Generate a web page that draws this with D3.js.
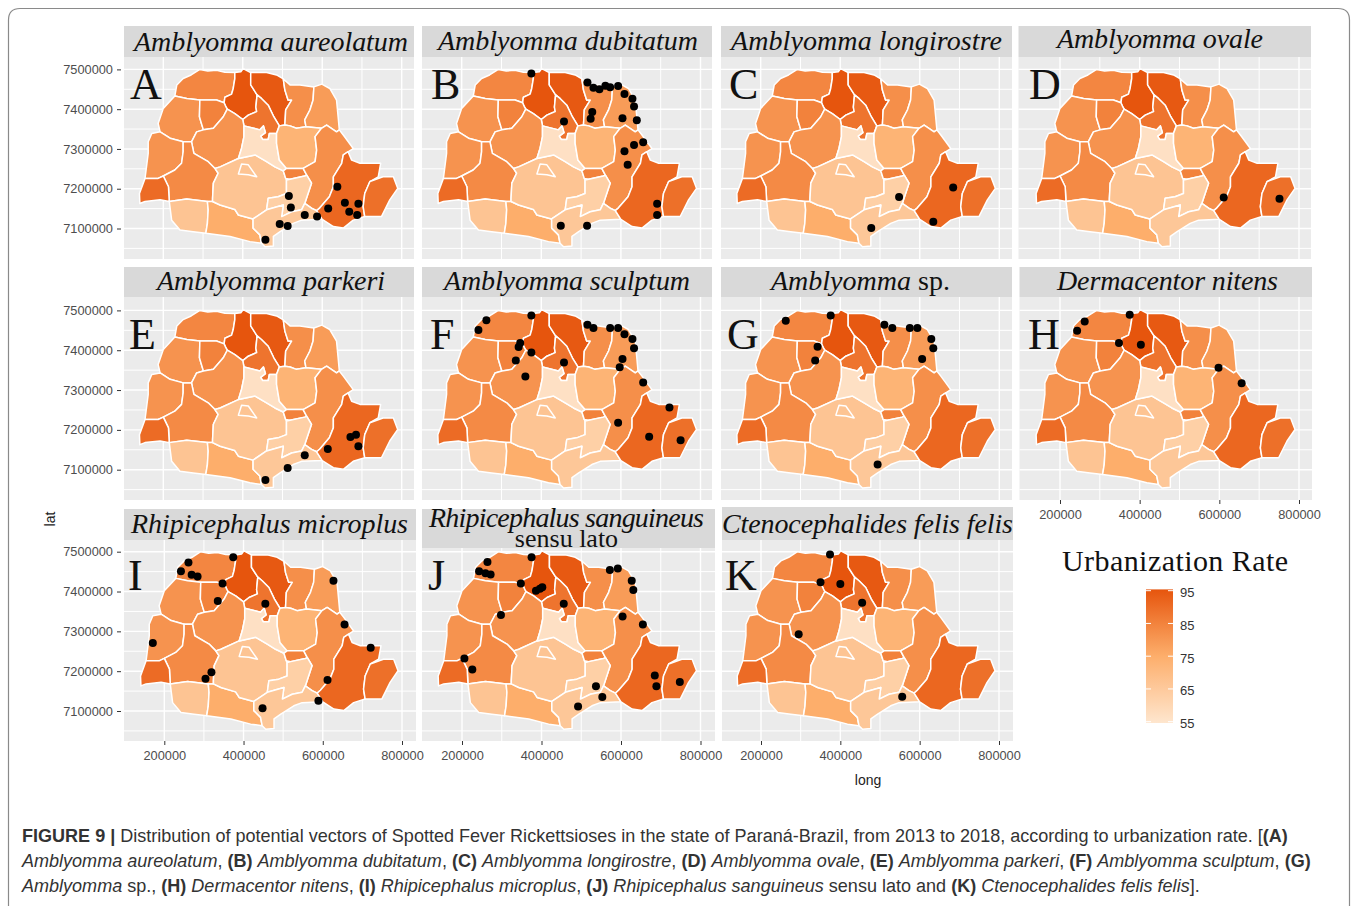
<!DOCTYPE html>
<html>
<head>
<meta charset="utf-8">
<script src="https://cdn.jsdelivr.net/npm/d3@7"></script>
<style>
  body { margin: 0; background: #fff; }
  .axis text { font-family: "Liberation Sans", Arial, sans-serif; font-size: 12.8px; fill: #4d4d4d; }
  .axis line { stroke: #333; }
  .axis path { display: none; }
</style>
</head>
<body>
<div id="chart"></div>
<script>
// region outlines, [long, lat] in thousands of metres
const regionShapes = [
  [[229,7433],[234,7461],[250,7477],[270,7486],[292,7500],[312,7496],[334,7498],[355,7493],[380,7492],[380,7477],[376,7452],[372,7438],[355,7430],[353,7416],[334,7423],[292,7423],[259,7427]],
  [[380,7492],[395,7494],[401,7502],[420,7492],[420,7461],[436,7436],[433,7405],[435,7394],[414,7385],[400,7374],[380,7389],[361,7400],[358,7405],[353,7416],[355,7430],[372,7438],[376,7452],[380,7477]],
  [[420,7492],[460,7492],[485,7486],[502,7476],[506,7448],[514,7423],[523,7423],[508,7398],[506,7360],[492,7358],[478,7381],[464,7410],[447,7427],[436,7436],[420,7461]],
  [[436,7436],[447,7427],[464,7410],[478,7381],[492,7358],[485,7339],[467,7339],[464,7324],[450,7324],[445,7332],[457,7341],[452,7358],[443,7348],[403,7358],[400,7374],[414,7385],[435,7394],[433,7405]],
  [[502,7476],[519,7461],[544,7461],[579,7456],[577,7423],[569,7398],[556,7373],[559,7356],[535,7352],[519,7358],[506,7360],[508,7398],[523,7423],[514,7423],[506,7448]],
  [[579,7456],[599,7463],[619,7452],[636,7423],[640,7381],[643,7348],[636,7343],[611,7360],[598,7352],[559,7356],[556,7373],[569,7398],[577,7423]],
  [[229,7433],[259,7427],[292,7423],[291,7381],[296,7364],[301,7348],[284,7343],[271,7318],[250,7318],[217,7327],[192,7343],[187,7364],[200,7402]],
  [[292,7423],[334,7423],[353,7416],[358,7405],[361,7400],[351,7381],[326,7352],[301,7348],[296,7364],[291,7381]],
  [[361,7400],[380,7389],[400,7374],[403,7358],[403,7331],[397,7302],[389,7276],[343,7255],[330,7251],[313,7268],[277,7289],[271,7318],[284,7343],[301,7348],[326,7352],[351,7381]],
  [[171,7339],[192,7343],[217,7327],[250,7318],[250,7293],[246,7264],[229,7247],[200,7232],[187,7226],[154,7226],[162,7289],[162,7318]],
  [[250,7318],[271,7318],[277,7289],[313,7268],[330,7251],[338,7239],[326,7214],[324,7176],[324,7168],[311,7168],[259,7174],[215,7168],[213,7205],[200,7232],[229,7247],[246,7264],[250,7293]],
  [[154,7226],[187,7226],[200,7232],[213,7205],[215,7168],[192,7172],[154,7168],[141,7163],[140,7188]],
  [[215,7168],[259,7174],[311,7168],[313,7147],[311,7113],[307,7088],[275,7092],[242,7096],[221,7121]],
  [[311,7168],[324,7168],[343,7159],[380,7148],[389,7134],[426,7124],[426,7101],[443,7084],[447,7063],[418,7067],[368,7080],[307,7088],[311,7113],[313,7147]],
  [[330,7251],[343,7255],[389,7276],[431,7285],[460,7268],[481,7255],[502,7245],[508,7226],[510,7222],[510,7188],[489,7180],[464,7176],[460,7147],[426,7124],[389,7134],[380,7148],[343,7159],[324,7168],[324,7176],[326,7214],[338,7239]],
  [[389,7237],[397,7262],[414,7260],[435,7230],[414,7235]],
  [[403,7358],[443,7348],[452,7358],[457,7341],[445,7332],[450,7324],[464,7324],[467,7339],[485,7339],[485,7314],[492,7272],[510,7251],[502,7245],[481,7255],[460,7268],[431,7285],[389,7276],[397,7302],[403,7331]],
  [[485,7339],[492,7358],[506,7360],[519,7358],[535,7352],[559,7356],[598,7352],[582,7331],[586,7297],[582,7268],[552,7251],[510,7251],[492,7272],[485,7314]],
  [[502,7245],[510,7251],[552,7251],[561,7234],[556,7232],[519,7224],[508,7226]],
  [[598,7352],[611,7360],[636,7343],[643,7348],[653,7335],[678,7301],[653,7285],[649,7264],[628,7230],[628,7205],[618,7180],[594,7152],[586,7145],[573,7151],[556,7163],[573,7214],[561,7234],[552,7251],[582,7268],[586,7297],[582,7331]],
  [[510,7222],[519,7224],[556,7232],[561,7234],[573,7214],[556,7163],[548,7147],[523,7142],[498,7130],[502,7159],[460,7147],[464,7176],[489,7180],[510,7188]],
  [[426,7124],[460,7147],[502,7159],[498,7130],[523,7142],[548,7147],[556,7163],[573,7151],[586,7145],[600,7123],[548,7121],[527,7113],[494,7092],[477,7080],[477,7056],[456,7054],[447,7063],[443,7084],[426,7101]],
  [[665,7293],[674,7272],[695,7264],[747,7264],[741,7230],[720,7218],[707,7188],[703,7155],[707,7130],[678,7121],[653,7101],[628,7105],[600,7123],[586,7145],[594,7152],[618,7180],[628,7205],[628,7230],[649,7264],[653,7285]],
  [[720,7218],[753,7230],[779,7230],[790,7201],[770,7172],[749,7130],[707,7130],[703,7155],[707,7188]]
];
const regionRates = [84,95,94,88,82,79,81,85,81,81,83,90,67,75,67,67,57,73,85,82,63,66,91,89];

// occurrence points per panel, same units
const pointsA = [[638,7205],[516,7182],[521,7153],[657,7165],[691,7162],[668,7142],[688,7134],[615,7150],[587,7130],[556,7134],[493,7111],[513,7106],[457,7072]];
const pointsB = [[375,7490],[516,7467],[531,7454],[546,7450],[561,7459],[573,7455],[593,7458],[609,7438],[629,7426],[633,7407],[528,7393],[524,7376],[457,7369],[604,7377],[640,7372],[656,7317],[633,7310],[609,7294],[617,7260],[691,7162],[691,7134],[449,7107],[515,7107]];
const pointsC = [[684,7203],[548,7179],[634,7117],[478,7101]];
const pointsD = [[611,7178],[751,7175]];
const pointsE = [[685,7188],[671,7182],[691,7159],[614,7152],[556,7136],[513,7104],[457,7074]];
const pointsF = [[262,7475],[242,7451],[375,7487],[516,7464],[531,7456],[573,7456],[593,7456],[609,7440],[629,7428],[633,7405],[347,7418],[343,7408],[375,7394],[336,7374],[360,7334],[457,7369],[604,7378],[597,7357],[656,7319],[593,7218],[722,7256],[671,7183],[750,7174]];
const pointsG = [[263,7474],[376,7487],[511,7464],[531,7456],[575,7456],[594,7456],[629,7428],[634,7405],[343,7409],[337,7374],[606,7378],[494,7113]];
const pointsH = [[375,7489],[262,7472],[243,7449],[348,7418],[403,7414],[598,7356],[656,7317]];
const pointsI = [[374,7486],[261,7473],[242,7451],[269,7442],[284,7438],[347,7420],[335,7376],[455,7369],[627,7427],[655,7317],[721,7259],[171,7271],[319,7197],[304,7181],[612,7178],[589,7126],[448,7107]];
const pointsJ = [[264,7474],[243,7451],[259,7446],[272,7443],[375,7486],[348,7420],[402,7411],[396,7407],[386,7402],[456,7369],[298,7341],[572,7454],[592,7458],[627,7427],[631,7404],[604,7337],[655,7317],[206,7232],[226,7204],[685,7189],[689,7162],[748,7173],[537,7162],[553,7135],[492,7111]];
const pointsK = [[374,7493],[350,7423],[400,7419],[455,7372],[295,7293],[556,7136]];
const panelPoints = [pointsA,pointsB,pointsC,pointsD,pointsE,pointsF,pointsG,pointsH,pointsI,pointsJ,pointsK];

const panelLetters = ["A","B","C","D","E","F","G","H","I","J","K"];
const panelTitles = ["Amblyomma aureolatum","Amblyomma dubitatum","Amblyomma longirostre","Amblyomma ovale","Amblyomma parkeri","Amblyomma sculptum","Amblyomma","Dermacentor nitens","Rhipicephalus microplus","Rhipicephalus sanguineus","Ctenocephalides felis felis"];
const longTicks = [200000,400000,600000,800000];
const latTicks = [7100000,7200000,7300000,7400000,7500000];
const legendTicks = [55,65,75,85,95];

// page layout, one entry per panel
const bgX = [[124,414],[422,712],[721,1012],[1018.5,1311],[124,414],[422,712],[721,1012],[1019.5,1312],[124,416],[422,715],[722,1013]];
const x200 = [163.3,461.7,760.7,1060,163.3,461.7,760.7,1060,164.3,462,761];
const x800 = [401.7,700.5,999.3,1299,401.7,700.5,999.3,1299,402,700.5,999];
const rowOf = [0,0,0,0,1,1,1,1,2,2,2];
const rowY = [{top:57,bottom:259,y7100:228.5,y7500:69.4},{top:297,bottom:500,y7100:469.7,y7500:310.4},{top:540,bottom:741,y7100:711,y7500:551.7}];
const stripY = [[26,57],[26,57],[26,57],[26,57],[267,297],[267,297],[267,297],[267,297],[509,540],[509,548],[507,540]];
const titleX = [134,438,731,1057,157,444,771,1057,131,429,722];
const titleW = [274,260,271,206,228,246,131,221,277,275,291];
const titleY = [51,50,50,48,290,290,290,290,533,527,533];
const letterX = [130,431,729,1029,129,430,727,1028,128,428,725];
const letterY = [99,99,99,99,349,349,349,349,590,590,590];

const svg = d3.select("#chart").append("svg").attr("width",1358).attr("height",906);
const serif = '"Liberation Serif", "Times New Roman", serif';
const sans = '"Liberation Sans", Arial, sans-serif';

svg.append("path")
  .attr("d","M8.5,906V20Q8.5,8.5 20,8.5H1338Q1349.5,8.5 1349.5,20V906")
  .attr("fill","none").attr("stroke","#8a8a8a").attr("stroke-width",1.2);

const fill = d3.scaleLinear().domain([55,75,95]).range(["#fee6ce","#fdae6b","#e6550d"]);

panelLetters.forEach((letter,i) => {
  const row = rowY[rowOf[i]];
  const x = d3.scaleLinear().domain([200000,800000]).range([x200[i],x800[i]]);
  const y = d3.scaleLinear().domain([7100000,7500000]).range([row.y7100,row.y7500]);
  const g = svg.append("g");

  g.append("rect").attr("x",bgX[i][0]).attr("y",row.top)
    .attr("width",bgX[i][1]-bgX[i][0]).attr("height",row.bottom-row.top).attr("fill","#ebebeb");

  // grid, every 100 km across and 50 km down
  d3.range(200000,800001,100000).forEach(v => {
    g.append("line").attr("x1",x(v)).attr("x2",x(v)).attr("y1",row.top).attr("y2",row.bottom)
      .attr("stroke","#fff").attr("stroke-width",v%200000==0 ? 1.4 : 1);
  });
  d3.range(7050000,7500001,50000).forEach(v => {
    g.append("line").attr("x1",bgX[i][0]).attr("x2",bgX[i][1]).attr("y1",y(v)).attr("y2",y(v))
      .attr("stroke","#fff").attr("stroke-width",v%100000==0 ? 1.4 : 1);
  });

  const line = d3.line().x(p => x(p[0]*1000)).y(p => y(p[1]*1000)).curve(d3.curveLinearClosed);
  g.selectAll("path.region").data(regionShapes).enter().append("path")
    .attr("class","region")
    .attr("d",line)
    .attr("fill",(d,j) => fill(regionRates[j]))
    .attr("stroke","#fff").attr("stroke-width",1.5).attr("stroke-linejoin","round");

  g.selectAll("circle").data(panelPoints[i]).enter().append("circle")
    .attr("cx",p => x(p[0]*1000)).attr("cy",p => y(p[1]*1000)).attr("r",4).attr("fill","#000");

  g.append("rect").attr("x",bgX[i][0]).attr("y",stripY[i][0])
    .attr("width",bgX[i][1]-bgX[i][0]).attr("height",stripY[i][1]-stripY[i][0]).attr("fill","#d9d9d9");

  const title = g.append("text").attr("x",titleX[i]).attr("y",titleY[i])
    .attr("font-family",serif).attr("font-size",28).attr("fill","#111");
  title.append("tspan").attr("font-style","italic").text(panelTitles[i]);
  if (letter=="G") title.append("tspan").text(" sp.");
  if (letter!="G") title.attr("textLength",titleW[i]);
  if (letter=="J") {
    g.append("text").attr("x",566.5).attr("y",547).attr("text-anchor","middle")
      .attr("font-family",serif).attr("font-size",26).attr("fill","#111").text("sensu lato");
  }

  g.append("text").attr("x",letterX[i]).attr("y",letterY[i])
    .attr("font-family",serif).attr("font-size",44).attr("fill","#111").text(letter);

  if (i==0 || i==4 || i==8) {
    g.append("g").attr("class","axis").attr("transform","translate(121,0)")
      .call(d3.axisLeft(y).tickValues(latTicks).tickSize(4).tickPadding(4).tickFormat(d3.format("d")));
  }
  if (i>=7) {
    g.append("g").attr("class","axis").attr("transform","translate(0,"+row.bottom+")")
      .call(d3.axisBottom(x).tickValues(longTicks).tickSize(4).tickPadding(6).tickFormat(d3.format("d")));
  }
});

svg.append("text").attr("transform","translate(55,519) rotate(-90)").attr("text-anchor","middle")
  .attr("font-family",sans).attr("font-size",14).attr("fill","#222").text("lat");
svg.append("text").attr("x",868).attr("y",785).attr("text-anchor","middle")
  .attr("font-family",sans).attr("font-size",14).attr("fill","#222").text("long");

// legend
svg.append("text").attr("x",1062).attr("y",571).attr("font-family",serif).attr("font-size",30)
  .attr("fill","#111").attr("textLength",226).text("Urbanization Rate");
const legendY = d3.scaleLinear().domain([55,95]).range([721.7,590.7]);
const grad = svg.append("defs").append("linearGradient").attr("id","ramp")
  .attr("x1",0).attr("x2",0).attr("y1",1).attr("y2",0);
d3.range(55,96,5).forEach(v => {
  grad.append("stop").attr("offset",(v-55)/40).attr("stop-color",fill(v));
});
svg.append("rect").attr("x",1146).attr("width",27).attr("y",legendY(95)-1.3).attr("height",legendY(55)-legendY(95)+2.6)
  .attr("fill","url(#ramp)");
legendTicks.forEach(v => {
  svg.append("line").attr("x1",1146).attr("x2",1151).attr("y1",legendY(v)).attr("y2",legendY(v)).attr("stroke","#fff");
  svg.append("line").attr("x1",1168).attr("x2",1173).attr("y1",legendY(v)).attr("y2",legendY(v)).attr("stroke","#fff");
  svg.append("text").attr("x",1180).attr("y",legendY(v)+6.5).attr("font-family",sans).attr("font-size",13)
    .attr("fill","#333").text(v);
});

// caption, b = bold, i = italic, n = plain
const captionLines = [
  [["b","FIGURE 9 |"],["n"," Distribution of potential vectors of Spotted Fever Rickettsioses in the state of Paraná-Brazil, from 2013 to 2018, according to urbanization rate. ["],["b","(A)"]],
  [["i","Amblyomma aureolatum"],["n",", "],["b","(B)"],["n"," "],["i","Amblyomma dubitatum"],["n",", "],["b","(C)"],["n"," "],["i","Amblyomma longirostre"],["n",", "],["b","(D)"],["n"," "],["i","Amblyomma ovale"],["n",", "],["b","(E)"],["n"," "],["i","Amblyomma parkeri"],["n",", "],["b","(F)"],["n"," "],["i","Amblyomma sculptum"],["n",", "],["b","(G)"]],
  [["i","Amblyomma"],["n"," sp., "],["b","(H)"],["n"," "],["i","Dermacentor nitens"],["n",", "],["b","(I)"],["n"," "],["i","Rhipicephalus microplus"],["n",", "],["b","(J)"],["n"," "],["i","Rhipicephalus sanguineus"],["n"," sensu lato and "],["b","(K)"],["n"," "],["i","Ctenocephalides felis felis"],["n","]."]]
];
const captionY = [842,867,892];
captionLines.forEach((segs,k) => {
  const t = svg.append("text").attr("x",22).attr("y",captionY[k]).attr("font-family",sans)
    .attr("font-size",18.05).attr("fill","#333");
  segs.forEach(s => {
    t.append("tspan").attr("font-weight",s[0]=="b" ? "bold" : null)
      .attr("font-style",s[0]=="i" ? "italic" : null).text(s[1]);
  });
});
</script>
</body>
</html>
